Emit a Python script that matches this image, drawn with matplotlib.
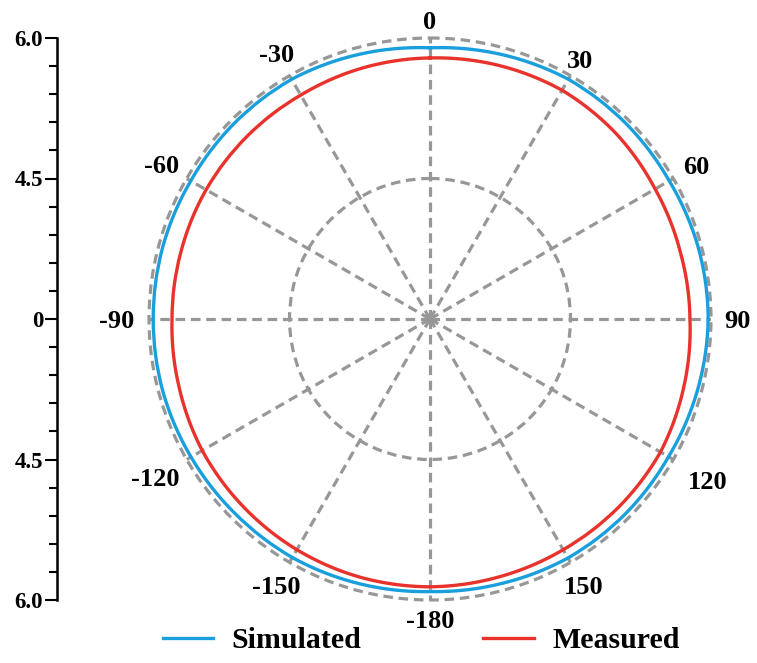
import numpy as np
import matplotlib
matplotlib.use("Agg")
import matplotlib.pyplot as plt
from matplotlib.ticker import MultipleLocator, FixedLocator, FixedFormatter

# angles (deg, clockwise from top) and normalised radius (outer circle = 1)
ANG = [0, 15, 30, 45, 60, 75, 90, 105, 120, 135, 150, 165,
       180, 195, 210, 225, 240, 255, 270, 285, 300, 315, 330, 345]
SIM = [0.965, 0.975, 0.985, 0.985, 0.983, 0.988, 0.990, 0.985, 0.980, 0.982, 0.982, 0.975,
       0.970, 0.975, 0.980, 0.980, 0.982, 0.985, 0.985, 0.985, 0.983, 0.985, 0.985, 0.975]
MEAS = [0.929, 0.935, 0.940, 0.935, 0.925, 0.922, 0.925, 0.935, 0.947, 0.948, 0.948, 0.950,
        0.953, 0.952, 0.948, 0.942, 0.936, 0.925, 0.918, 0.918, 0.920, 0.920, 0.920, 0.925]

THETA_TICKS = [0, 30, 60, 90, 120, 150, 180, 210, 240, 270, 300, 330]
THETA_LABELS = ["0", "30", "60", "90", "120", "150", "-180", "-150", "-120", "-90", "-60", "-30"]
R_TICKS = [-1.0, -0.5, 0.0, 0.5, 1.0]
R_LABELS = ["6.0", "4.5", "0", "4.5", "6.0"]

# where the angle labels sit (radius, outer circle = 1)
LAB_R = [1.064, 1.067, 1.093, 1.093, 1.143, 1.095, 1.068, 1.093, 1.128, 1.114, 1.103, 1.093]

BLUE = "#1A9FDD"
RED = "#E8322B"
GRID = "#979797"
SERIF = "Liberation Serif"

W, H = 757, 663
fig = plt.figure(figsize=(W / 100, H / 100), dpi=100)

CX, CY, R = 430, 319, 281
ax = fig.add_axes([(CX - R) / W, (H - CY - R) / H, 2 * R / W, 2 * R / H], projection="polar")
ax.set_theta_zero_location("N")
ax.set_theta_direction(-1)
ax.set_rlim(0, 1.0)
ax.set_axisbelow(True)

# close the loop at 360 deg so the last segment does not wrap backwards
th = np.deg2rad(ANG + [ANG[0] + 360])
l1, = ax.plot(th, SIM + [SIM[0]], color=BLUE, lw=2.4, label="Simulated")
l2, = ax.plot(th, MEAS + [MEAS[0]], color=RED, lw=2.4, label="Measured")
# let the polar transform bend the segments into arcs
for ln in (l1, l2):
    ln.get_path()._interpolation_steps = 60

ax.set_thetagrids(THETA_TICKS, [""] * len(THETA_TICKS))
ax.set_rgrids([0.5, 1.0], labels=["", ""])
ax.grid(True, color=GRID, lw=2.3, linestyle=(0, (3, 1.8)))
for gl in ax.yaxis.get_gridlines():
    gl.set_clip_on(False)
ax.spines["polar"].set_visible(False)

for a, lab, rr in zip(THETA_TICKS, THETA_LABELS, LAB_R):
    ax.text(np.deg2rad(a), rr, lab, ha="center", va="center_baseline", clip_on=False,
            family=SERIF, weight="bold", fontsize=19)

# left scale bar
sax = fig.add_axes([57 / W, (H - CY - R) / H, 0.05, 2 * R / H])
sax.set_ylim(-1, 1)
for s in ["top", "right", "bottom"]:
    sax.spines[s].set_visible(False)
sax.spines["left"].set_linewidth(1.8)
sax.set_xticks([])
sax.patch.set_visible(False)
sax.yaxis.set_major_locator(FixedLocator(R_TICKS))
sax.yaxis.set_major_formatter(FixedFormatter(R_LABELS))
sax.yaxis.set_minor_locator(MultipleLocator(0.1))
sax.tick_params(axis="y", which="major", length=9, width=1.5, pad=1)
sax.tick_params(axis="y", which="minor", length=6, width=1.5)
for t in sax.get_yticklabels():
    t.set_fontfamily(SERIF)
    t.set_fontweight("bold")
    t.set_fontsize(16.5)

fig.legend(handles=[l1, l2], loc="center", bbox_to_anchor=(421 / W, 22 / H), ncol=2,
           frameon=False, handlelength=1.7, handletextpad=0.6, columnspacing=4.1,
           prop={"family": SERIF, "weight": "bold", "size": 21.5})

fig.savefig("out.png", dpi=100, facecolor="white")
